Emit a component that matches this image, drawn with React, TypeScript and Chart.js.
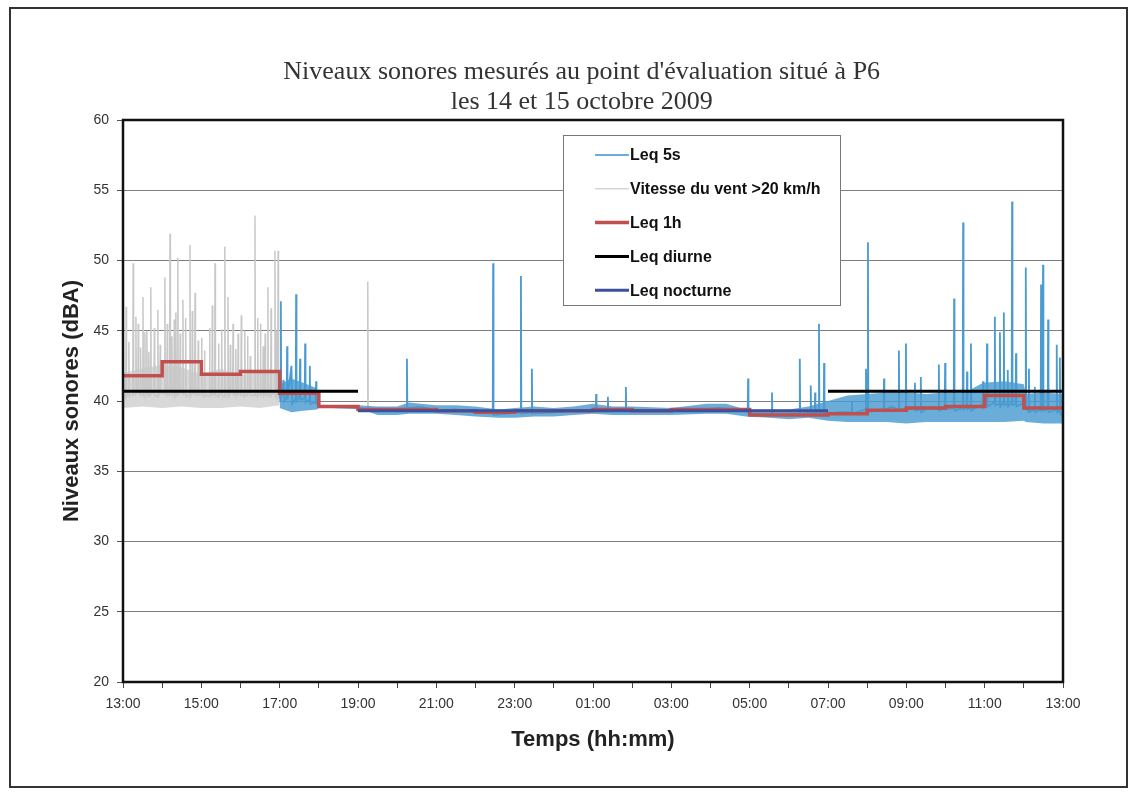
import React, { useEffect, useRef } from 'react';
import { Chart, registerables } from 'chart.js';

Chart.register(...registerables);

// ---- Axis labels ----
const timeLabels = [
  '13:00', '14:00', '15:00', '16:00', '17:00', '18:00', '19:00', '20:00', '21:00', '22:00', '23:00', '00:00',
  '01:00', '02:00', '03:00', '04:00', '05:00', '06:00', '07:00', '08:00', '09:00', '10:00', '11:00', '12:00', '13:00',
];
const titleLines = ["Niveaux sonores mesurés au point d'évaluation situé à P6", 'les 14 et 15 octobre 2009'];
const legendLabels = ['Leq 5s', 'Vitesse du vent >20 km/h', 'Leq 1h', 'Leq diurne', 'Leq nocturne'];

// ---- Data (x = hours since 13:00) ----
// Leq 5s: [hour, dBA]
const leq5s: [number, number][] = [
  [4.0, 40.5], [4.02, 40.0], [4.03, 47.1], [4.04, 40.2], [4.1, 41.5], [4.12, 40.0],
  [4.18, 40.3], [4.19, 43.9], [4.2, 40.1], [4.3, 42.5], [4.32, 39.8],
  [4.41, 40.2], [4.42, 47.6], [4.43, 40.0], [4.51, 40.4], [4.52, 43.0], [4.53, 40.1],
  [4.64, 40.2], [4.65, 44.1], [4.66, 39.9], [4.76, 40.1], [4.77, 42.5], [4.78, 39.8],
  [4.92, 39.9], [4.93, 41.4], [4.94, 39.8], [5.0, 39.6], [6.0, 39.5],
  [6.5, 39.3], [7.0, 39.4], [7.24, 39.5], [7.25, 43.0], [7.26, 39.5],
  [7.6, 39.6], [8.0, 39.3], [8.5, 39.4], [9.0, 39.2],
  [9.44, 39.1], [9.45, 49.8], [9.46, 39.0], [9.8, 39.1],
  [10.15, 39.2], [10.16, 48.9], [10.17, 39.1], [10.43, 39.2], [10.44, 42.3], [10.45, 39.1],
  [11.0, 39.2], [11.5, 39.3], [12.07, 39.4], [12.08, 40.5], [12.09, 39.4],
  [12.37, 39.4], [12.38, 40.3], [12.39, 39.4], [12.83, 39.3], [12.84, 41.0], [12.85, 39.3],
  [13.5, 39.3], [14.5, 39.3], [15.2, 39.5],
  [15.95, 39.3], [15.96, 41.6], [15.97, 39.1], [16.56, 39.0], [16.57, 40.6], [16.58, 39.0],
  [17.27, 39.1], [17.28, 43.0], [17.29, 39.0], [17.55, 39.2], [17.56, 41.1], [17.57, 39.0],
  [17.66, 39.2], [17.67, 40.6], [17.68, 39.1], [17.76, 39.3], [17.77, 45.5], [17.78, 39.2],
  [17.89, 39.2], [17.9, 42.7], [17.91, 39.1], [18.3, 39.2],
  [18.6, 39.2], [18.61, 40.0], [18.62, 39.1], [18.96, 39.4], [18.97, 42.3], [18.99, 39.3],
  [19.01, 39.3], [19.02, 51.3], [19.03, 39.2], [19.42, 39.4], [19.43, 41.6], [19.44, 39.3],
  [19.6, 39.6], [19.8, 39.4], [19.81, 43.6], [19.82, 39.3], [19.98, 39.5], [19.99, 44.1], [20.0, 39.4],
  [20.21, 39.5], [20.22, 41.3], [20.23, 39.3], [20.36, 39.4], [20.37, 41.7], [20.38, 39.2],
  [20.6, 39.6], [20.82, 39.4], [20.83, 42.6], [20.84, 39.3], [20.98, 39.5], [20.99, 42.7], [21.0, 39.4],
  [21.21, 39.5], [21.22, 47.3], [21.23, 39.3], [21.44, 39.5], [21.45, 52.7], [21.46, 39.4],
  [21.54, 39.6], [21.55, 42.1], [21.56, 39.4], [21.64, 39.5], [21.65, 44.1], [21.66, 39.3],
  [21.8, 39.6], [21.95, 39.7], [21.96, 41.4], [21.97, 39.5], [22.05, 39.8], [22.06, 44.1], [22.07, 39.6],
  [22.25, 39.9], [22.26, 46.0], [22.27, 39.7], [22.38, 39.8], [22.39, 44.9], [22.4, 39.6],
  [22.48, 39.9], [22.49, 46.3], [22.5, 39.7], [22.58, 39.8], [22.59, 42.2], [22.6, 39.6],
  [22.69, 39.9], [22.7, 54.2], [22.71, 39.7], [22.79, 39.8], [22.8, 43.4], [22.81, 39.6],
  [22.95, 39.8], [23.04, 39.5], [23.05, 49.5], [23.06, 39.4], [23.12, 39.3], [23.13, 42.3], [23.14, 39.2],
  [23.27, 39.4], [23.28, 41.0], [23.29, 39.2], [23.43, 39.4], [23.44, 48.3], [23.45, 39.3],
  [23.48, 39.4], [23.49, 49.7], [23.5, 39.3], [23.61, 39.4], [23.62, 45.8], [23.63, 39.2],
  [23.75, 39.3], [23.83, 39.4], [23.84, 44.0], [23.85, 39.2], [23.91, 39.3], [23.92, 43.1], [23.93, 39.1],
  [24.0, 38.9],
];

// Spread of the 5 s values (dense band)
const blueBandHours = [4.0, 4.3, 4.6, 4.95, 5.0, 6.0, 6.5, 7.0, 7.3, 7.6, 8.0, 8.5, 9.0, 9.6, 10.0, 10.5, 11.0, 11.5, 12.0, 12.5, 13.0, 14.0, 14.9, 15.4, 15.9, 16.5, 17.0, 17.5, 18.0, 18.5, 19.0, 19.5, 20.0, 20.5, 21.0, 21.5, 21.96, 22.5, 23.0, 23.05, 23.5, 24.0];
const blueBandLow = [39.5, 39.2, 39.3, 39.4, 39.5, 39.5, 39.0, 39.0, 39.1, 39.1, 39.1, 39.0, 38.9, 38.8, 38.8, 38.9, 38.9, 39.0, 39.1, 39.0, 39.0, 39.0, 39.1, 39.1, 38.9, 38.8, 38.7, 38.8, 38.6, 38.5, 38.5, 38.5, 38.4, 38.5, 38.5, 38.5, 38.5, 38.5, 38.6, 38.5, 38.4, 38.4];
const blueBandHigh = [41.2, 41.6, 41.3, 40.9, 39.7, 39.7, 39.6, 39.6, 39.9, 39.8, 39.7, 39.7, 39.6, 39.4, 39.5, 39.6, 39.5, 39.6, 39.8, 39.6, 39.6, 39.5, 39.8, 39.8, 39.4, 39.4, 39.4, 39.6, 40.0, 40.4, 40.5, 40.6, 40.6, 40.5, 40.6, 40.6, 41.3, 41.4, 41.2, 40.5, 40.6, 40.5];

// Wind > 20 km/h (gray)
const windData: [number, number | null][] = [
  [0, 40.5], [0.07, 40.2], [0.08, 46.7], [0.09, 40.3], [0.14, 40.6], [0.15, 44.2], [0.16, 40.3],
  [0.25, 40.5], [0.26, 49.8], [0.27, 40.4], [0.32, 40.5], [0.33, 46.0], [0.34, 40.6],
  [0.38, 41.0], [0.39, 45.5], [0.4, 40.6], [0.44, 40.4], [0.45, 43.8], [0.46, 40.5],
  [0.5, 40.5], [0.51, 47.4], [0.52, 40.4], [0.55, 40.6], [0.56, 44.9], [0.57, 40.4],
  [0.6, 40.8], [0.61, 45.0], [0.62, 40.5], [0.65, 40.3], [0.66, 43.5], [0.67, 40.5],
  [0.7, 40.4], [0.71, 48.1], [0.72, 40.5], [0.79, 40.6], [0.8, 45.2], [0.81, 40.4],
  [0.88, 40.3], [0.89, 46.5], [0.9, 40.4], [0.94, 40.5], [0.95, 44.0], [0.96, 40.6],
  [1.06, 40.5], [1.07, 48.8], [1.08, 40.6], [1.12, 40.4], [1.13, 45.5], [1.14, 40.5],
  [1.19, 40.4], [1.2, 51.9], [1.21, 40.5], [1.24, 40.6], [1.25, 44.6], [1.26, 40.4],
  [1.3, 40.6], [1.31, 45.8], [1.32, 40.3], [1.34, 40.5], [1.35, 46.3], [1.36, 40.4],
  [1.39, 40.5], [1.4, 50.2], [1.41, 40.4], [1.45, 40.5], [1.46, 44.8], [1.47, 40.6],
  [1.52, 40.6], [1.53, 47.2], [1.54, 40.4], [1.59, 40.5], [1.6, 45.9], [1.61, 40.3],
  [1.7, 40.5], [1.71, 51.1], [1.72, 40.3], [1.76, 40.6], [1.77, 46.4], [1.78, 40.5],
  [1.83, 40.6], [1.84, 47.7], [1.85, 40.4], [1.91, 40.5], [1.92, 44.3], [1.93, 40.4],
  [2.0, 40.5], [2.01, 44.5], [2.02, 40.4], [2.07, 40.3], [2.08, 43.6], [2.09, 40.5],
  [2.2, 40.3], [2.21, 45.2], [2.22, 40.5], [2.27, 40.4], [2.28, 46.8], [2.29, 40.6],
  [2.34, 40.4], [2.35, 49.8], [2.36, 40.5], [2.43, 40.3], [2.44, 44.1], [2.45, 40.4],
  [2.51, 40.5], [2.52, 45.1], [2.53, 40.4], [2.59, 40.3], [2.6, 51.0], [2.61, 40.4],
  [2.67, 40.5], [2.68, 47.4], [2.69, 40.3], [2.73, 40.4], [2.74, 44.0], [2.75, 40.6],
  [2.8, 40.6], [2.81, 45.5], [2.82, 40.4], [2.87, 40.5], [2.88, 43.7], [2.89, 40.3],
  [2.93, 40.5], [2.94, 44.8], [2.95, 40.5], [3.01, 40.4], [3.02, 46.1], [3.03, 40.6],
  [3.1, 40.3], [3.11, 45.0], [3.12, 40.5], [3.17, 40.4], [3.18, 44.6], [3.19, 40.5],
  [3.24, 40.6], [3.25, 43.2], [3.26, 40.4], [3.36, 40.4], [3.37, 53.2], [3.38, 40.5],
  [3.43, 40.3], [3.44, 45.9], [3.45, 40.5], [3.5, 40.4], [3.51, 45.5], [3.52, 40.6],
  [3.57, 40.5], [3.58, 43.9], [3.59, 40.4], [3.62, 40.6], [3.63, 44.8], [3.64, 40.4],
  [3.69, 40.4], [3.7, 48.1], [3.71, 40.5], [3.77, 40.3], [3.78, 46.6], [3.79, 40.5],
  [3.87, 40.5], [3.88, 50.7], [3.89, 40.4], [3.91, 40.6], [3.92, 45.0], [3.93, 40.4],
  [3.95, 40.6], [3.96, 50.7], [3.97, 40.3], [4.0, 40.5],
  [5.0, null], [6.24, 39.5], [6.25, 48.5], [6.26, 39.5],
];
const grayBandHours = [0, 0.5, 1.0, 1.5, 2.0, 2.5, 3.0, 3.5, 4.0];
const grayBandLow = [39.5, 39.6, 39.5, 39.6, 39.5, 39.5, 39.6, 39.5, 39.7];
const grayBandHigh = [42.0, 42.3, 42.6, 42.4, 41.9, 42.3, 41.8, 42.2, 42.0];

// Leq 1h: value of each hour starting at the listed hour (last entry closes the final hour)
const leq1hHours = [0, 1, 2, 3, 4, 5, 6, 7, 8, 9, 10, 11, 12, 13, 14, 15, 16, 17, 18, 19, 20, 21, 22, 23, 24];
const leq1hValues = [41.8, 42.8, 41.9, 42.1, 40.55, 39.6, 39.4, 39.4, 39.3, 39.2, 39.3, 39.3, 39.4, 39.3, 39.4, 39.4, 39.0, 39.0, 39.1, 39.35, 39.5, 39.6, 40.4, 39.5, 39.5];

// Leq diurne / nocturne
const diurneHours = [0, 6, 6, 18, 24];
const diurneValues: (number | null)[] = [40.7, 40.7, null, 40.7, 40.7];
const nocturneHours = [6, 18];
const nocturneValues = [39.3, 39.3];

const pts = (xs: number[], ys: (number | null)[]) => xs.map((x, i) => ({ x, y: ys[i] }));
const pairs = (arr: [number, number | null][]) => arr.map(([x, y]) => ({ x, y }));

const framePlugin = {
  id: 'frame',
  afterDatasetsDraw(chart: any) {
    const { ctx, chartArea: a } = chart;
    ctx.save();
    ctx.strokeStyle = '#111';
    ctx.lineWidth = 2.5;
    ctx.strokeRect(a.left, a.top, a.right - a.left, a.bottom - a.top);
    ctx.restore();
  },
};

const titlePlugin = {
  id: 'offsetTitle',
  afterDraw(chart: any) {
    const { ctx, chartArea: a } = chart;
    const cx = a.left + (a.right - a.left) * 0.488;
    ctx.save();
    ctx.font = '26px "Liberation Serif", "Times New Roman", serif';
    ctx.fillStyle = '#333';
    ctx.textAlign = 'center';
    ctx.textBaseline = 'middle';
    titleLines.forEach((line, i) => ctx.fillText(line, cx, a.top - 48 + i * 30));
    ctx.restore();
  },
};

const legendPlugin = {
  id: 'boxLegend',
  afterDraw(chart: any) {
    const { ctx, chartArea: a } = chart;
    const x0 = Math.round(a.left + 440);
    const y0 = Math.round(a.top + 15);
    const w = 277;
    const h = 170;
    ctx.save();
    ctx.fillStyle = '#fff';
    ctx.fillRect(x0, y0, w, h);
    ctx.strokeStyle = '#777';
    ctx.lineWidth = 1;
    ctx.strokeRect(x0 + 0.5, y0 + 0.5, w, h);
    ctx.font = 'bold 16px "Liberation Sans", Arial, sans-serif';
    ctx.textBaseline = 'middle';
    ctx.textAlign = 'left';
    legendLabels.forEach((label, i) => {
      const ds = chart.data.datasets.find((d: any) => d.label === label);
      if (!ds) return;
      const y = y0 + 20 + i * 33.8;
      ctx.strokeStyle = ds.legendColor || ds.borderColor;
      ctx.lineWidth = ds.borderWidth;
      ctx.beginPath();
      ctx.moveTo(x0 + 32, y);
      ctx.lineTo(x0 + 66, y);
      ctx.stroke();
      ctx.fillStyle = '#111';
      ctx.fillText(label, x0 + 67, y + 1);
    });
    ctx.restore();
  },
};

export default function App() {
  const ref = useRef<HTMLCanvasElement>(null);
  useEffect(() => {
    if (!ref.current) return;
    Chart.defaults.font.family = '"Liberation Sans", Arial, sans-serif';
    const chart = new Chart(ref.current, {
      type: 'line',
      data: {
        datasets: [
          {
            label: 'Leq nocturne', data: pts(nocturneHours, nocturneValues), borderColor: '#3e509b', borderWidth: 3,
            pointRadius: 0, order: 1,
          },
          {
            label: 'Leq diurne', data: pts(diurneHours, diurneValues), borderColor: '#000', borderWidth: 3,
            pointRadius: 0, order: 2, spanGaps: false,
          },
          {
            label: 'Leq 1h', data: pts(leq1hHours, leq1hValues), borderColor: '#c0504d', borderWidth: 3.5,
            pointRadius: 0, order: 3, stepped: 'before',
          },
          {
            label: 'Leq 5s', data: pairs(leq5s), borderColor: '#4a9bd1', borderWidth: 1.8,
            pointRadius: 0, order: 7, legendColor: '#6aaed8',
          },
          {
            label: 'band5sLow', data: pts(blueBandHours, blueBandLow), borderWidth: 0, borderColor: 'rgba(0,0,0,0)',
            pointRadius: 0, order: 8, fill: false,
          },
          {
            label: 'band5sHigh', data: pts(blueBandHours, blueBandHigh), borderWidth: 0, borderColor: 'rgba(0,0,0,0)',
            backgroundColor: 'rgba(74,155,209,0.82)', pointRadius: 0, order: 8, fill: '-1',
          },
          {
            label: 'Vitesse du vent >20 km/h', data: pairs(windData), borderColor: '#c8c8c8', borderWidth: 1.5,
            pointRadius: 0, order: 9, spanGaps: false, legendColor: '#d6d6d6',
          },
          {
            label: 'bandWindLow', data: pts(grayBandHours, grayBandLow), borderWidth: 0, borderColor: 'rgba(0,0,0,0)',
            pointRadius: 0, order: 10, fill: false,
          },
          {
            label: 'bandWindHigh', data: pts(grayBandHours, grayBandHigh), borderWidth: 0, borderColor: 'rgba(0,0,0,0)',
            backgroundColor: '#d8d8d8', pointRadius: 0, order: 10, fill: '-1',
          },
        ] as any,
      },
      options: {
        animation: false,
        responsive: false,
        layout: { padding: { left: 0, right: 63, top: 111, bottom: 0 } },
        plugins: {
          legend: { display: false },
          tooltip: { enabled: false },
          title: { display: false },
        },
        scales: {
          x: {
            type: 'linear',
            min: 0,
            max: 24,
            afterFit: (s: any) => { s.height = 104; },
            ticks: {
              stepSize: 1,
              autoSkip: false,
              maxRotation: 0,
              minRotation: 0,
              padding: 8,
              color: '#333',
              font: { size: 14 },
              callback: (v: any) => (Number(v) % 2 === 0 ? timeLabels[Number(v)] : ''),
            },
            grid: { drawOnChartArea: false, drawTicks: true, tickLength: 6, color: '#444' },
            border: { display: false },
            title: {
              display: true,
              text: 'Temps (hh:mm)',
              color: '#222',
              font: { size: 22, weight: 'bold' },
              padding: { top: 0, bottom: 33 },
            },
          },
          y: {
            min: 20,
            max: 60,
            afterFit: (s: any) => { s.width = 112; },
            ticks: { stepSize: 5, padding: 8, color: '#333', font: { size: 14 } },
            grid: { color: '#7f7f7f', lineWidth: 1, tickLength: 6, tickColor: '#555' },
            border: { display: false },
            title: {
              display: true,
              text: 'Niveaux sonores (dBA)',
              color: '#222',
              font: { size: 22, weight: 'bold' },
              padding: { top: 48, bottom: 0 },
            },
          },
        },
      } as any,
      plugins: [framePlugin, legendPlugin, titlePlugin],
    });
    return () => chart.destroy();
  }, []);

  return (
    <div
      style={{
        position: 'absolute',
        left: 9,
        top: 7,
        width: 1119,
        height: 781,
        boxSizing: 'border-box',
        border: '2px solid #333',
        background: '#fff',
      }}
    >
      <canvas ref={ref} width={1115} height={777} style={{ display: 'block' }} />
    </div>
  );
}
